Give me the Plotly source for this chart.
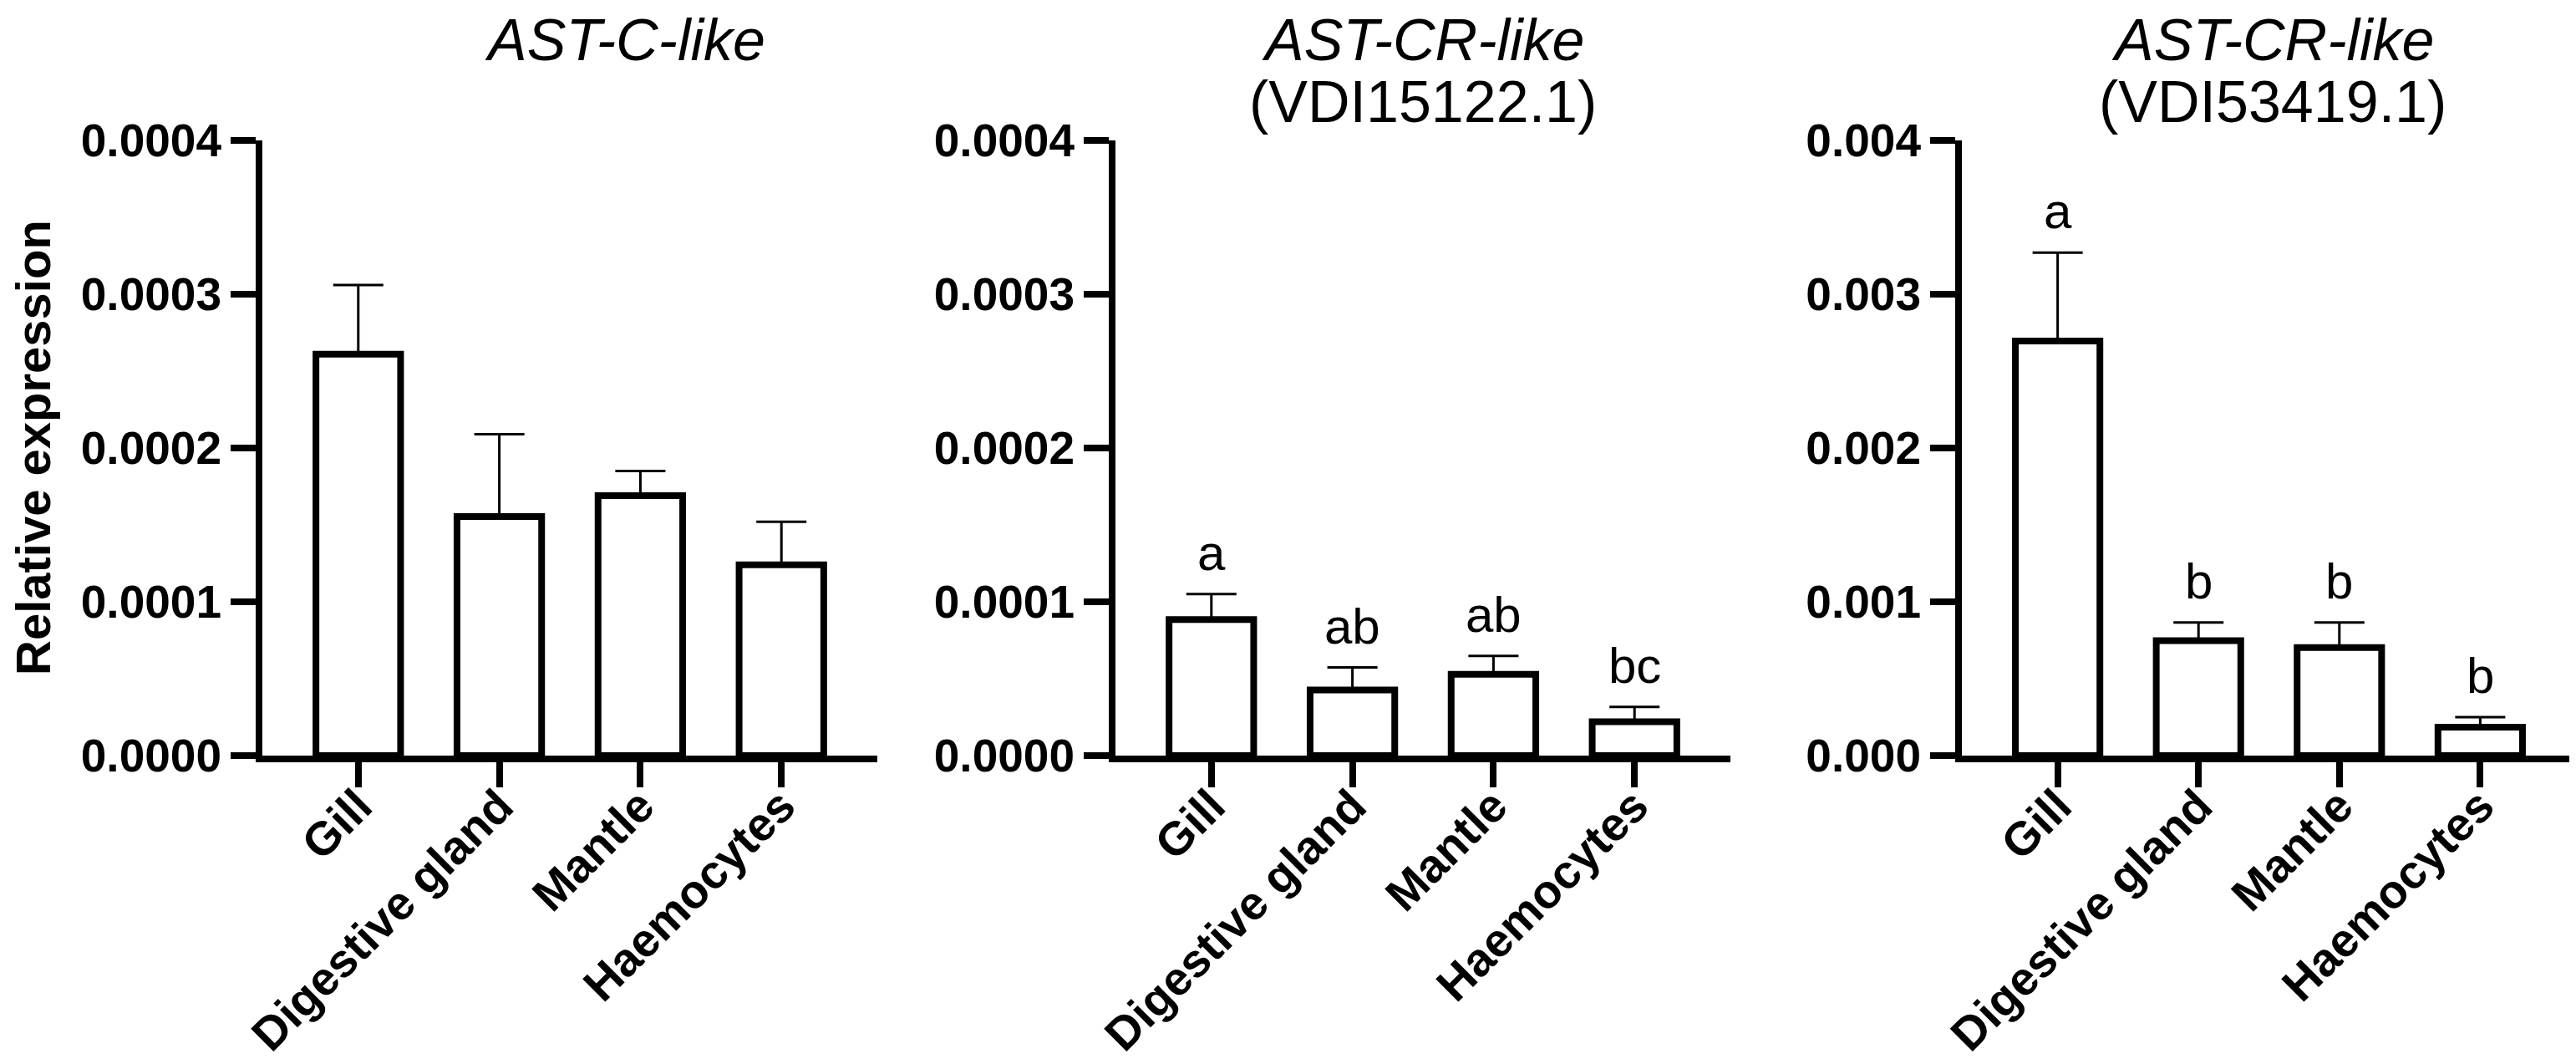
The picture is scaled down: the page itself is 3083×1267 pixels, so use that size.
import plotly.graph_objects as go
from plotly.subplots import make_subplots

# tissues (same for all three genes)
tissues = ["Gill", "Digestive gland", "Mantle", "Haemocytes"]

# AST-C-like
astc_mean = [0.000261, 0.0001555, 0.000169, 0.000124]
astc_sem = [0.000045, 0.0000535, 0.000016, 0.000028]

# AST-CR-like (VDI15122.1)
cr1_mean = [0.0000885, 0.0000427, 0.0000529, 0.000022]
cr1_sem = [0.0000165, 0.0000146, 0.0000119, 0.0000097]
cr1_letters = ["a", "ab", "ab", "bc"]

# AST-CR-like (VDI53419.1)
cr2_mean = [0.002695, 0.000747, 0.000703, 0.000185]
cr2_sem = [0.000575, 0.000119, 0.000163, 0.000065]
cr2_letters = ["a", "b", "b", "b"]

W, H = 3083, 1267
FONT = "Liberation Sans, Arial, sans-serif"

fig = make_subplots(rows=1, cols=3)

panels = [
    (astc_mean, astc_sem, None),
    (cr1_mean, cr1_sem, cr1_letters),
    (cr2_mean, cr2_sem, cr2_letters),
]

for i, (m, s, letters) in enumerate(panels):
    fig.add_trace(go.Bar(
        x=tissues, y=m, width=0.6,
        marker=dict(color="white", line=dict(color="black", width=8)),
        error_y=dict(type="data", array=s, arrayminus=[0] * len(s), symmetric=False,
                     color="black", thickness=3, width=30),
        showlegend=False,
    ), row=1, col=i + 1)
    if letters:
        for t, v, e, lab in zip(tissues, m, s, letters):
            fig.add_annotation(x=t, y=v + e, xref="x%d" % (i + 1), yref="y%d" % (i + 1),
                               text=lab, showarrow=False, yanchor="bottom", yshift=14,
                               font=dict(family=FONT, size=60, color="black"))

# panel positions in pixels (left, right)
px_x = [(306, 1042), (1327, 2063), (2340, 3075)]
y_dom = [1 - 896 / H, 1 - 160 / H]

axis_style = dict(showgrid=False, zeroline=False, showline=True, linecolor="black",
                  linewidth=8, ticks="outside", ticklen=30, tickwidth=8, tickcolor="black",
                  automargin=False)

for i, (a, b) in enumerate(px_x):
    xa = "xaxis" if i == 0 else "xaxis%d" % (i + 1)
    ya = "yaxis" if i == 0 else "yaxis%d" % (i + 1)
    fig.layout[xa].update(domain=[a / W, b / W], range=[-0.68, 3.68], tickangle=-45,
                          ticklabelstandoff=-33,
                          tickfont=dict(family=FONT, size=56, color="black", weight="bold"),
                          **axis_style)
    if i < 2:
        fig.layout[ya].update(domain=y_dom, range=[0, 0.0004], dtick=0.0001, tickformat=".4f",
                              tickfont=dict(family=FONT, size=55, color="black", weight="bold"),
                              **axis_style)
    else:
        fig.layout[ya].update(domain=y_dom, range=[0, 0.004], dtick=0.001, tickformat=".3f",
                              tickfont=dict(family=FONT, size=55, color="black", weight="bold"),
                              **axis_style)

# panel titles: gene name (italic) and, where present, accession on a second line
titles = [
    ("AST-C-like", None, 740),
    ("AST-CR-like", "(VDI15122.1)", 1695),
    ("AST-CR-like", "(VDI53419.1)", 2712),
]
for gene, acc, cx in titles:
    fig.add_annotation(x=cx / W, y=1, xref="paper", yref="paper",
                       text="<i>%s</i>" % gene, showarrow=False, borderpad=0,
                       xanchor="center", yanchor="top",
                       font=dict(family=FONT, size=70, color="black"))
    if acc:
        fig.add_annotation(x=cx / W, y=1 - 74 / H, xref="paper", yref="paper",
                           text=acc, showarrow=False, borderpad=0,
                           xanchor="center", yanchor="top",
                           font=dict(family=FONT, size=70, color="black"))

# y axis title
fig.add_annotation(x=32 / W, y=1 - 528 / H, xref="paper", yref="paper",
                   text="<b>Relative expression</b>", textangle=-90, showarrow=False,
                   xanchor="center", yanchor="middle",
                   font=dict(family=FONT, size=58, color="black"))

fig.update_layout(width=W, height=H, margin=dict(l=0, r=0, t=0, b=0),
                  plot_bgcolor="white", paper_bgcolor="white", bargap=0.4)

fig.write_html("out.html")
